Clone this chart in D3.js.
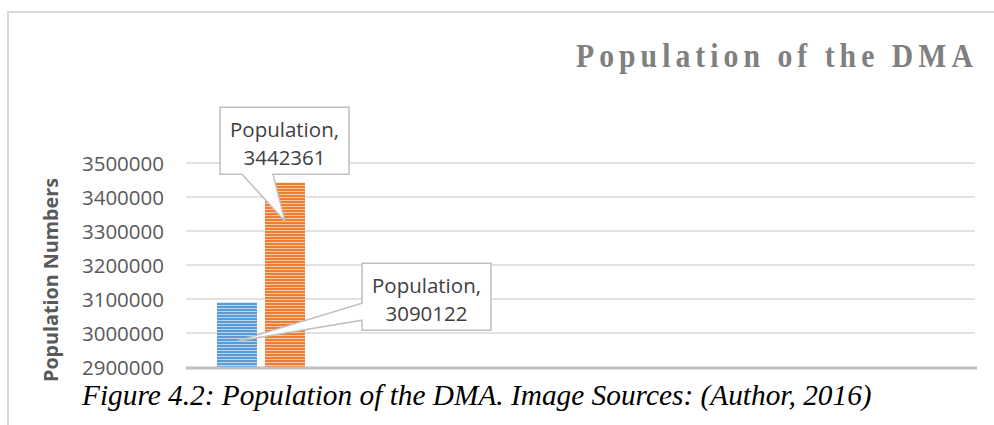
<!DOCTYPE html>
<html>
<head>
<meta charset="utf-8">
<script src="https://cdn.jsdelivr.net/npm/d3@7"></script>
<style>
  html, body { margin: 0; padding: 0; background: #fff; }
  svg { display: block; }
</style>
</head>
<body>
<svg id="chart" width="994" height="425"></svg>
<script>
// ---- data ----
const seriesNames = ["Population", "Population"];
const values = [3090122, 3442361];
const colors = ["#5B9BD5", "#ED7D31"];
const stripeColors = ["#bcd5ee", "#f8c8a6"];
const yTicks = [2900000, 3000000, 3100000, 3200000, 3300000, 3400000, 3500000];
const titleText = "Population of the DMA";
const yAxisTitle = "Population Numbers";
const captionText = "Figure 4.2: Population of the DMA. Image Sources: (Author, 2016)";

// ---- layout ----
const W = 994, H = 425;
const plot = { left: 186, right: 975, top: 163, bottom: 367 };
const sans = "'Open Sans', Lato, sans-serif";
const serif = "'Liberation Serif', 'Times New Roman', serif";
const svg = d3.select("#chart");

// frame border
svg.append("path")
  .attr("d", `M8,${H} L8,12 L${W},12`)
  .attr("fill", "none").attr("stroke", "#d9d9d9").attr("stroke-width", 2);

// scales
const y = d3.scaleLinear().domain([2900000, 3500000]).range([plot.bottom, plot.top]);
const x = d3.scaleBand().domain(d3.range(values.length))
  .range([plot.left + 31, plot.left + 119]).paddingInner(0.167).paddingOuter(0);

// patterns
const defs = svg.append("defs");
colors.forEach((c, i) => {
  const p = defs.append("pattern").attr("id", "pat" + i)
    .attr("patternUnits", "userSpaceOnUse").attr("width", 8).attr("height", 3);
  p.append("rect").attr("width", 8).attr("height", 3).attr("fill", c);
  p.append("rect").attr("y", 2).attr("width", 8).attr("height", 1).attr("fill", stripeColors[i]);
});

// gridlines
svg.append("g").selectAll("line").data(yTicks.slice(1)).join("line")
  .attr("x1", plot.left).attr("x2", plot.right)
  .attr("y1", d => y(d)).attr("y2", d => y(d))
  .attr("stroke", "#d9d9d9").attr("stroke-width", 1.5);

// y axis labels
const yAxis = d3.axisLeft(y).tickValues(yTicks).tickFormat(d3.format("d")).tickSize(0).tickPadding(0);
const ya = svg.append("g").attr("transform", `translate(${plot.left - 22},0)`).call(yAxis);
ya.select(".domain").remove();
ya.selectAll("text")
  .attr("fill", "#595959").attr("font-family", sans)
  .attr("font-size", 20.5).attr("dy", "0.36em");

// bars
svg.append("g").selectAll("rect").data(values).join("rect")
  .attr("x", (d, i) => x(i)).attr("width", x.bandwidth())
  .attr("y", d => y(d)).attr("height", d => y(2900000) - y(d))
  .attr("fill", (d, i) => `url(#pat${i})`);

// x axis line
svg.append("line")
  .attr("x1", plot.left).attr("x2", plot.right + 2)
  .attr("y1", plot.bottom + 1).attr("y2", plot.bottom + 1)
  .attr("stroke", "#bfbfbf").attr("stroke-width", 3);

// callouts (layout offsets relative to each bar)
const calloutLayout = [
  { tipFrac: 0.6, boxDx: 125, boxDy: -78, side: "left" },
  { tipFrac: 0.21, boxDx: -65, boxDy: -114, side: "bottom" }
];
const boxW = 129, boxH = 67;
values.forEach((v, i) => {
  const cx = x(i) + x.bandwidth() / 2;
  const top = y(v), base = y(2900000);
  const tipX = cx, tipY = top + calloutLayout[i].tipFrac * (base - top);
  const L = calloutLayout[i];
  const bx = tipX + L.boxDx, by = tipY + L.boxDy;
  let d;
  if (L.side === "left") {
    d = `M${bx},${by} L${bx + boxW},${by} L${bx + boxW},${by + boxH} L${bx},${by + boxH} L${bx},${by + 57} L${tipX},${tipY} L${bx},${by + 40} Z`;
  } else {
    d = `M${bx},${by} L${bx + boxW},${by} L${bx + boxW},${by + boxH} L${bx + 53},${by + boxH} L${tipX},${tipY} L${bx + 22},${by + boxH} L${bx},${by + boxH} Z`;
  }
  svg.append("path").attr("d", d).attr("fill", "#fff")
    .attr("stroke", "#bfbfbf").attr("stroke-width", 1.5);
  const t = svg.append("text").attr("text-anchor", "middle")
    .attr("font-family", sans).attr("font-size", 20.5).attr("fill", "#404040");
  t.append("tspan").attr("x", bx + boxW / 2).attr("y", by + 30).text(seriesNames[i] + ",");
  t.append("tspan").attr("x", bx + boxW / 2).attr("y", by + 58).text(d3.format("d")(v));
});

// title (horizontally condensed, letter-spaced)
const titleG = svg.append("g");
const title = titleG.append("text").attr("x", 0).attr("y", 0)
  .attr("font-family", serif)
  .attr("font-weight", "bold").attr("font-size", 33).attr("fill", "#808080")
  .text(titleText);
{
  const sx = 0.9;
  const w = title.node().getComputedTextLength();
  const ls = Math.max(0, (397 / sx - w) / (titleText.length - 1));
  title.attr("letter-spacing", ls);
  titleG.attr("transform", `translate(576,67) scale(${sx},1)`);
}

// y axis title
const yt = svg.append("text")
  .attr("transform", `translate(58,280) rotate(-90)`)
  .attr("text-anchor", "middle")
  .attr("font-family", sans).attr("font-weight", "bold")
  .attr("font-size", 20).attr("fill", "#595959").text(yAxisTitle);
{
  const w = yt.node().getComputedTextLength();
  yt.attr("font-size", 20 * 204 / w);
}

// caption (horizontally condensed)
const capG = svg.append("g");
const cap = capG.append("text").attr("x", 0).attr("y", 0)
  .attr("font-family", serif)
  .attr("font-style", "italic").attr("font-size", 29.5).attr("fill", "#000")
  .text(captionText);
{
  const w = cap.node().getComputedTextLength();
  capG.attr("transform", `translate(82,405) scale(${790 / w},1)`);
}
</script>
</body>
</html>
